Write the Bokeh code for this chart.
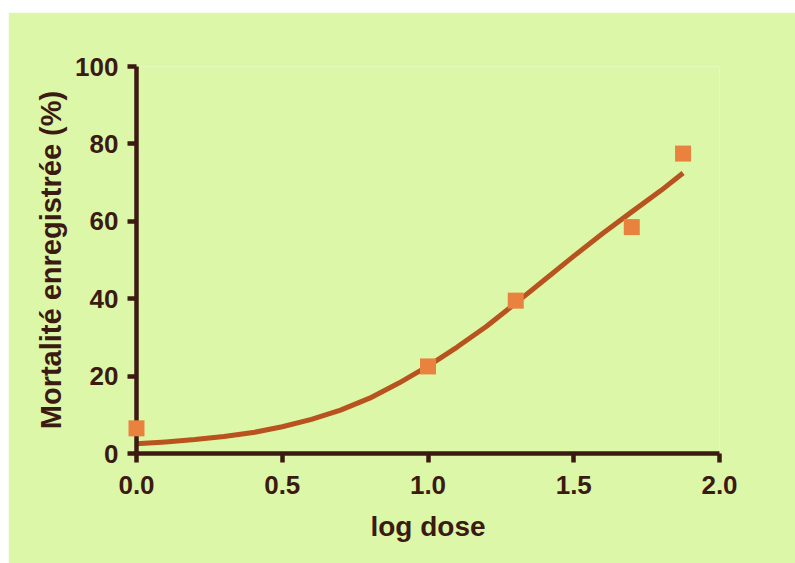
from bokeh.plotting import figure
from bokeh.models import Range1d, FixedTicker
from bokeh.embed import file_html
from bokeh.resources import INLINE

# observed data (log dose vs mortality %)
log_dose = [0.0, 1.0, 1.301, 1.699, 1.875]
mortality = [6.5, 22.5, 39.5, 58.5, 77.5]

# fitted curve
curve_x = [0.0, 0.1, 0.2, 0.3, 0.4, 0.5, 0.6, 0.7, 0.8, 0.9, 1.0,
           1.1, 1.2, 1.3, 1.4, 1.5, 1.6, 1.7, 1.8, 1.875]
curve_y = [2.5, 3.0, 3.6, 4.4, 5.4, 6.9, 8.8, 11.2, 14.3, 18.2, 22.6,
           27.5, 32.8, 38.8, 44.9, 51.0, 56.9, 62.5, 68.0, 72.5]

x_ticks = [0.0, 0.5, 1.0, 1.5, 2.0]
y_ticks = [0, 20, 40, 60, 80, 100]

BG = "#ddf7a8"
DARK = "#3b1a12"
FONT = "Liberation Sans"

p = figure(width=787, height=551, output_backend="svg", toolbar_location=None,
           x_range=Range1d(0, 2.0), y_range=Range1d(0, 100),
           min_border_left=128, min_border_right=76, min_border_top=54, min_border_bottom=110,
           background_fill_color=BG, border_fill_color=BG)
p.margin = (12, 0, 0, 8)
p.outline_line_color = None
p.grid.visible = False

p.line(curve_x, curve_y, line_color="#b8521e", line_width=5, line_join="round")
sq = p.scatter(log_dose, mortality, marker="square", size=16, fill_color="#e8823e",
               line_color=None)
sq.level = "overlay"

for ax in (p.xaxis[0], p.yaxis[0]):
    ax.axis_line_color = DARK
    ax.axis_line_width = 4.5
    ax.major_tick_line_color = DARK
    ax.major_tick_line_width = 4.5
    ax.major_tick_in = 0
    ax.major_tick_out = 9
    ax.minor_tick_line_color = None
    ax.major_label_text_font = FONT
    ax.major_label_text_font_style = "bold"
    ax.major_label_text_font_size = "26px"
    ax.major_label_text_color = DARK
    ax.axis_label_text_font = FONT
    ax.axis_label_text_font_style = "bold"
    ax.axis_label_text_color = DARK

p.xaxis.axis_label_text_font_size = "28px"
p.yaxis.axis_label_text_font_size = "29px"
p.xaxis.ticker = FixedTicker(ticks=x_ticks)
p.yaxis.ticker = FixedTicker(ticks=y_ticks)
p.xaxis.major_label_overrides = {t: f"{t:.1f}" for t in x_ticks}
p.xaxis.axis_label = "log dose"
p.yaxis.axis_label = "Mortalité enregistrée (%)"
p.xaxis.major_label_standoff = 13
p.yaxis.major_label_standoff = 9
p.xaxis.axis_label_standoff = 14
p.yaxis.axis_label_standoff = 5

open("out.html", "w").write(file_html(p, INLINE))
